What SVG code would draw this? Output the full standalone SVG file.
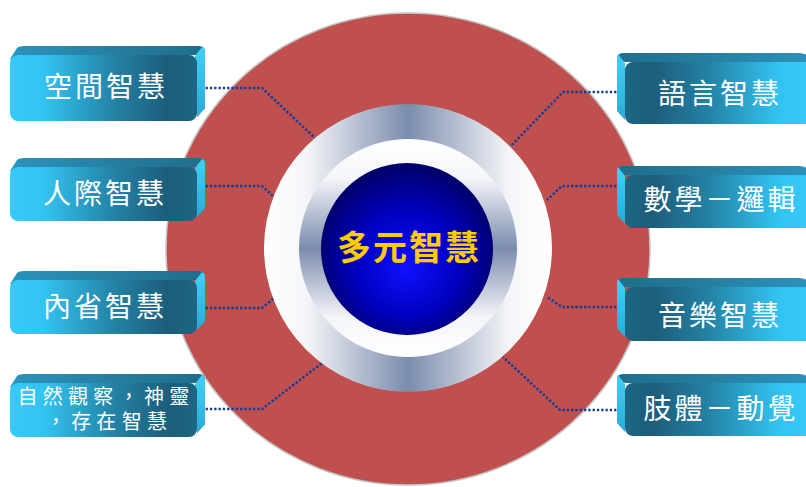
<svg xmlns="http://www.w3.org/2000/svg" width="806" height="487" viewBox="0 0 806 487">
<defs>
<linearGradient id="gFrontL" x1="0" y1="0" x2="1" y2="0">
<stop offset="0" stop-color="#36caf8"/><stop offset="0.18" stop-color="#33c3f1"/><stop offset="0.55" stop-color="#2483a6"/><stop offset="0.85" stop-color="#1c5d7a"/><stop offset="1" stop-color="#1e6683"/>
</linearGradient>
<linearGradient id="gFrontR" x1="1" y1="0" x2="0" y2="0">
<stop offset="0" stop-color="#36caf8"/><stop offset="0.18" stop-color="#33c3f1"/><stop offset="0.55" stop-color="#2483a6"/><stop offset="0.85" stop-color="#1c5d7a"/><stop offset="1" stop-color="#1e6683"/>
</linearGradient>
<linearGradient id="gTopL" x1="0" y1="0" x2="1" y2="0">
<stop offset="0" stop-color="#2c93bb"/><stop offset="1" stop-color="#1f6d8c"/>
</linearGradient>
<linearGradient id="gTopR" x1="1" y1="0" x2="0" y2="0">
<stop offset="0" stop-color="#2c93bb"/><stop offset="1" stop-color="#1f6d8c"/>
</linearGradient>
<linearGradient id="gSide" x1="0" y1="0" x2="0" y2="1">
<stop offset="0" stop-color="#42d0f7"/><stop offset="1" stop-color="#2aaad8"/>
</linearGradient>
<linearGradient id="gOuter" x1="0" y1="0" x2="1" y2="0">
<stop offset="0" stop-color="#ffffff"/><stop offset="0.15" stop-color="#f4f5f8"/><stop offset="0.5" stop-color="#7b8cad"/><stop offset="0.85" stop-color="#f4f5f8"/><stop offset="1" stop-color="#ffffff"/>
</linearGradient>
<linearGradient id="gInner" x1="0" y1="0" x2="0" y2="1">
<stop offset="0" stop-color="#ffffff"/><stop offset="0.18" stop-color="#f4f5f8"/><stop offset="0.5" stop-color="#7b8cad"/><stop offset="0.82" stop-color="#f4f5f8"/><stop offset="1" stop-color="#ffffff"/>
</linearGradient>
<radialGradient id="gBlue" cx="0.5" cy="0.55" r="0.55" fx="0.5" fy="0.62">
<stop offset="0" stop-color="#1010ff"/><stop offset="0.55" stop-color="#0000c0"/><stop offset="1" stop-color="#000066"/>
</radialGradient>
</defs>
<style>
.topL{fill:url(#gTopL)}
.topR{fill:url(#gTopR)}
.side{fill:url(#gSide)}
.frontL{fill:url(#gFrontL)}
.frontR{fill:url(#gFrontR)}
.lbl{font-family:"Noto Sans CJK TC","Noto Sans CJK SC",sans-serif;font-size:28px;fill:#ffffff;text-anchor:middle;letter-spacing:3px}
.lbl2{font-family:"Liberation Sans","Noto Sans CJK TC","Noto Sans CJK SC",sans-serif;font-size:20px;letter-spacing:5.3px}
.conn{fill:none;stroke:#123c9c;stroke-width:2.5;stroke-dasharray:2.3 2}
.title{font-family:"Noto Sans CJK TC","Noto Sans CJK SC",sans-serif;font-size:34px;font-weight:700;fill:#ffcc00;text-anchor:middle;letter-spacing:2px}
</style>

<g id="background">
<ellipse cx="408" cy="249" rx="242" ry="236" fill="#c0504d" stroke="#c4c4c4" stroke-width="1.5"/>
</g>

<g id="connectors">
<path class="conn" d="M197,88 H262 L316,139"/>
<path class="conn" d="M197,186 H262 L274,197"/>
<path class="conn" d="M197,308 H262 L274,298"/>
<path class="conn" d="M197,409 H262 L322,363"/>
<path class="conn" d="M625,92 H563 L510,147"/>
<path class="conn" d="M625,186 H562 L547,200"/>
<path class="conn" d="M625,307 H562 L547,297"/>
<path class="conn" d="M625,410 H560 L503,357"/>
</g>

<g id="center">
<circle cx="408" cy="248" r="144" fill="url(#gOuter)"/>
<circle cx="408" cy="248" r="109" fill="url(#gInner)"/>
<circle cx="407" cy="249" r="86" fill="url(#gBlue)"/>
<text class="title" x="409" y="260">多元智慧</text>
</g>

<g id="box-spatial" transform="translate(0,55)">
<path class="topL" d="M10,4 L17,-7 Q19,-9 24,-9 L199,-9 Q205,-9 205,-3 L205,53 L197,62 L197,0 Z"/>
<path class="side" d="M195,1 L202,-8 Q205,-7 205,-3 L205,53 L197,62 Z"/>
<rect class="frontL" x="10" y="0" width="187" height="66" rx="8"/>
<text class="lbl" x="106" y="42">空間智慧</text>
</g>

<g id="box-interpersonal" transform="translate(0,167)">
<path class="topL" d="M10,4 L17,-7 Q19,-9 24,-9 L199,-9 Q205,-9 205,-3 L205,41 L197,50 L197,0 Z"/>
<path class="side" d="M195,1 L202,-8 Q205,-7 205,-3 L205,41 L197,50 Z"/>
<rect class="frontL" x="10" y="0" width="187" height="54" rx="8"/>
<text class="lbl" x="105" y="37">人際智慧</text>
</g>

<g id="box-intrapersonal" transform="translate(0,280)">
<path class="topL" d="M10,4 L17,-7 Q19,-9 24,-9 L199,-9 Q205,-9 205,-3 L205,41 L197,50 L197,0 Z"/>
<path class="side" d="M195,1 L202,-8 Q205,-7 205,-3 L205,41 L197,50 Z"/>
<rect class="frontL" x="10" y="0" width="187" height="54" rx="8"/>
<text class="lbl" x="105" y="37">內省智慧</text>
</g>

<g id="box-naturalist" transform="translate(0,383)">
<path class="topL" d="M10,4 L17,-7 Q19,-9 24,-9 L199,-9 Q205,-9 205,-3 L205,41 L197,50 L197,0 Z"/>
<path class="side" d="M195,1 L202,-8 Q205,-7 205,-3 L205,41 L197,50 Z"/>
<rect class="frontL" x="10" y="0" width="187" height="54" rx="8"/>
<text class="lbl lbl2"><tspan x="106" y="21">自然觀察，神靈</tspan><tspan x="109" y="46">，存在智慧</tspan></text>
</g>

<g id="box-linguistic" transform="translate(0,62)">
<path class="topR" d="M617,-3 Q617,-9 623,-9 L799,-9 Q805,-9 808,-6 L813,0 L625,0 Z"/>
<path class="side" d="M625,1 L618,-8 Q617,-7 617,-3 L617,49 L625,58 Z"/>
<rect class="frontR" x="625" y="0" width="188" height="62" rx="8"/>
<text class="lbl" x="720" y="42">語言智慧</text>
</g>

<g id="box-logical" transform="translate(0,175)">
<path class="topR" d="M617,-3 Q617,-9 623,-9 L799,-9 Q805,-9 808,-6 L813,0 L625,0 Z"/>
<path class="side" d="M625,1 L618,-8 Q617,-7 617,-3 L617,40 L625,49 Z"/>
<rect class="frontR" x="625" y="0" width="188" height="53" rx="8"/>
<text class="lbl" x="721" y="35">數學－邏輯</text>
</g>

<g id="box-musical" transform="translate(0,287)">
<path class="topR" d="M617,-3 Q617,-9 623,-9 L799,-9 Q805,-9 808,-6 L813,0 L625,0 Z"/>
<path class="side" d="M625,1 L618,-8 Q617,-7 617,-3 L617,41 L625,50 Z"/>
<rect class="frontR" x="625" y="0" width="188" height="54" rx="8"/>
<text class="lbl" x="720" y="39">音樂智慧</text>
</g>

<g id="box-bodily" transform="translate(0,383)">
<path class="topR" d="M617,-3 Q617,-9 623,-9 L799,-9 Q805,-9 808,-6 L813,0 L625,0 Z"/>
<path class="side" d="M625,1 L618,-8 Q617,-7 617,-3 L617,40 L625,49 Z"/>
<rect class="frontR" x="625" y="0" width="188" height="53" rx="8"/>
<text class="lbl" x="721" y="36">肢體－動覺</text>
</g>
</svg>
